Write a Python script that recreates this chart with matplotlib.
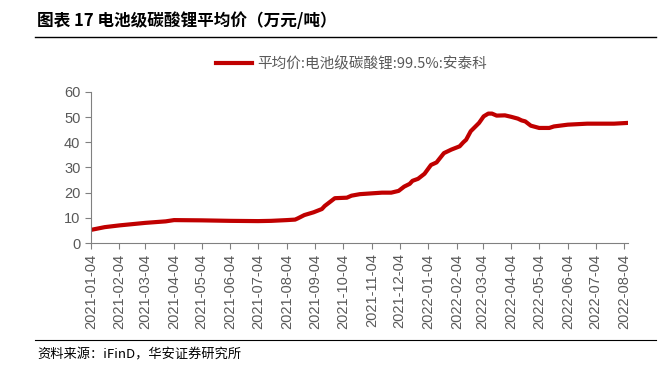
import pandas as pd
import matplotlib.dates as mdates
from matplotlib import pyplot as plt

plt.rcParams['font.family'] = ['Noto Sans CJK SC', 'DejaVu Sans']
plt.rcParams['axes.unicode_minus'] = False

# 电池级碳酸锂平均价 (万元/吨), 读自原图
dates = ['2021-01-04', '2021-01-19', '2021-02-04', '2021-03-04', '2021-03-26',
         '2021-04-04', '2021-05-04', '2021-06-04', '2021-07-04', '2021-07-18',
         '2021-08-04', '2021-08-13', '2021-08-16', '2021-08-23', '2021-09-02',
         '2021-09-11', '2021-09-14', '2021-09-25', '2021-10-08', '2021-10-13',
         '2021-10-22', '2021-11-15', '2021-11-25', '2021-12-03', '2021-12-09',
         '2021-12-15', '2021-12-18', '2021-12-24', '2021-12-31', '2022-01-07',
         '2022-01-13', '2022-01-21', '2022-01-29', '2022-02-07', '2022-02-11',
         '2022-02-14', '2022-02-19', '2022-02-28', '2022-03-05', '2022-03-10',
         '2022-03-14', '2022-03-19', '2022-03-28', '2022-04-04', '2022-04-11',
         '2022-04-15', '2022-04-19', '2022-04-25', '2022-05-04', '2022-05-15',
         '2022-05-20', '2022-06-04', '2022-06-25', '2022-07-24', '2022-08-08']
price = [5.2, 6.3, 7.0, 8.0, 8.6,
         9.1, 9.0, 8.8, 8.7, 8.8,
         9.1, 9.3, 9.8, 11.1, 12.2,
         13.5, 14.7, 17.8, 18.0, 18.8,
         19.4, 20.0, 20.0, 20.7, 22.4,
         23.5, 24.7, 25.5, 27.5, 31.0,
         32.0, 35.7, 37.1, 38.4, 40.0,
         41.0, 44.4, 47.7, 50.3, 51.4,
         51.4, 50.6, 50.7, 50.1, 49.4,
         48.7, 48.3, 46.6, 45.7, 45.7,
         46.3, 47.0, 47.4, 47.4, 47.7]
legend_label = '平均价:电池级碳酸锂:99.5%:安泰科'
title = '图表 17 电池级碳酸锂平均价（万元/吨）'
source = '资料来源：iFinD，华安证券研究所'

x = pd.to_datetime(dates)
gray = '#808080'
txt = '#595959'

fig = plt.figure(figsize=(6.63, 3.73), dpi=100)
ax = fig.add_axes([0.137, 0.3485, 0.81, 0.405])
ax.plot(x, price, color='#C00000', linewidth=3, label=legend_label)

ax.set_ylim(0, 60)
ax.set_yticks(range(0, 61, 10))
ax.set_xlim(pd.Timestamp('2021-01-04'), pd.Timestamp('2022-08-08'))
ax.set_xticks(pd.date_range('2021-01-01', '2022-08-01', freq='MS') + pd.Timedelta(days=3))
ax.xaxis.set_major_formatter(mdates.DateFormatter('%Y-%m-%d'))
plt.setp(ax.get_xticklabels(), rotation=90)
for lab in ax.get_xticklabels() + ax.get_yticklabels():
    lab.set_family(['Liberation Sans', 'DejaVu Sans'])
ax.tick_params(colors=txt, labelsize=10.5, length=4, color=gray)
for s in ['top', 'right']:
    ax.spines[s].set_visible(False)
for s in ['left', 'bottom']:
    ax.spines[s].set_color(gray)

leg = ax.legend(loc='lower center', bbox_to_anchor=(0.485, 1.05), frameon=False,
                fontsize=10.5, handlelength=2.5, handletextpad=0.3)
for t in leg.get_texts():
    t.set_color(txt)

fig.text(0.056, 0.945, title, fontsize=12, fontweight='bold', va='center')
fig.add_artist(plt.Line2D([0.053, 0.99], [0.9, 0.9], color='black', linewidth=1))
fig.add_artist(plt.Line2D([0.053, 0.99], [0.088, 0.088], color='black', linewidth=0.8))
fig.text(0.056, 0.048, source, fontsize=9.5, va='center')

fig.savefig('out.png', dpi=100)
